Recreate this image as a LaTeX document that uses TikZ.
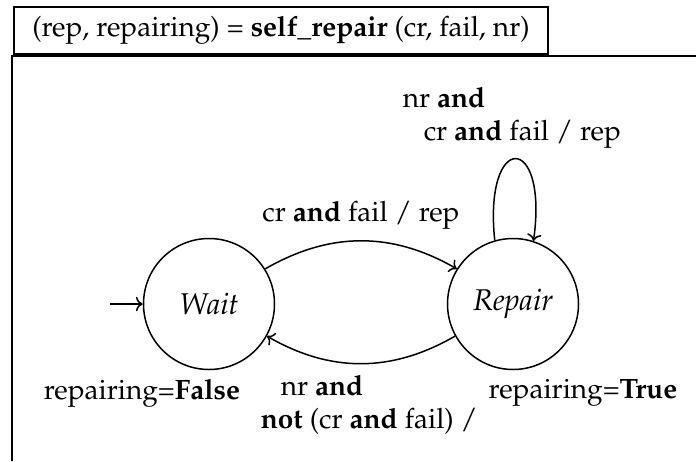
\documentclass[tikz,border=0pt]{standalone}
\usepackage[T1]{fontenc}
\usepackage{mathpazo}
\usetikzlibrary{arrows.meta}
\begin{document}
\begin{tikzpicture}[x=1pt, y=1pt, line width=1.5pt, >={To[scale=1.4]},
        font=\fontsize{28}{33}\selectfont,
        state/.style={draw, circle, minimum size=131pt, inner sep=0pt,
                      font=\fontsize{30}{34}\selectfont\itshape},
        lbl/.style={align=left, inner sep=0pt}]
      \useasboundingbox (0,0) rectangle (696,-461);
      % Titre
      \node[draw, minimum width=534pt, minimum height=47pt, inner sep=0pt] (title) at (281,-30.5)
            {(rep, repairing) = \textbf{self\_repair} (cr, fail, nr)};
      % Cadre
      \draw (696,-56) -- (12,-56) -- (12,-461);
      % Etats
      \node[state] (wait)   at (209,-304) {Wait};
      \node[state] (repair) at (513,-304) {Repair};
      \coordinate (start) at (110,-304);
      % Transitions
      \draw[->] (start) -- (wait);
      \draw[->] (wait.32) to[bend left=30] (repair.148);
      \draw[->] (repair.209) to[bend left=30] (wait.331);
      \draw[->] (repair.106) .. controls +(96:110) and +(82:110) .. (repair.72);
      % Labels
      \node[lbl] (lwait)   at (142,-393) {repairing=\textbf{False}};
      \node[lbl] (lrepair) at (583,-393) {repairing=\textbf{True}};
      \node[lbl] (lgo)     at (361,-215) {cr \textbf{and} fail / rep};
      \node[lbl, anchor=west] (lback) at (260,-405)
            {\hspace*{20pt}nr \textbf{and}\\\textbf{not} (cr \textbf{and} fail) /};
      \node[lbl, anchor=west] (lloop) at (402,-118)
            {nr \textbf{and}\\\hspace*{21pt}cr \textbf{and} fail / rep};
    \end{tikzpicture}
\end{document}
